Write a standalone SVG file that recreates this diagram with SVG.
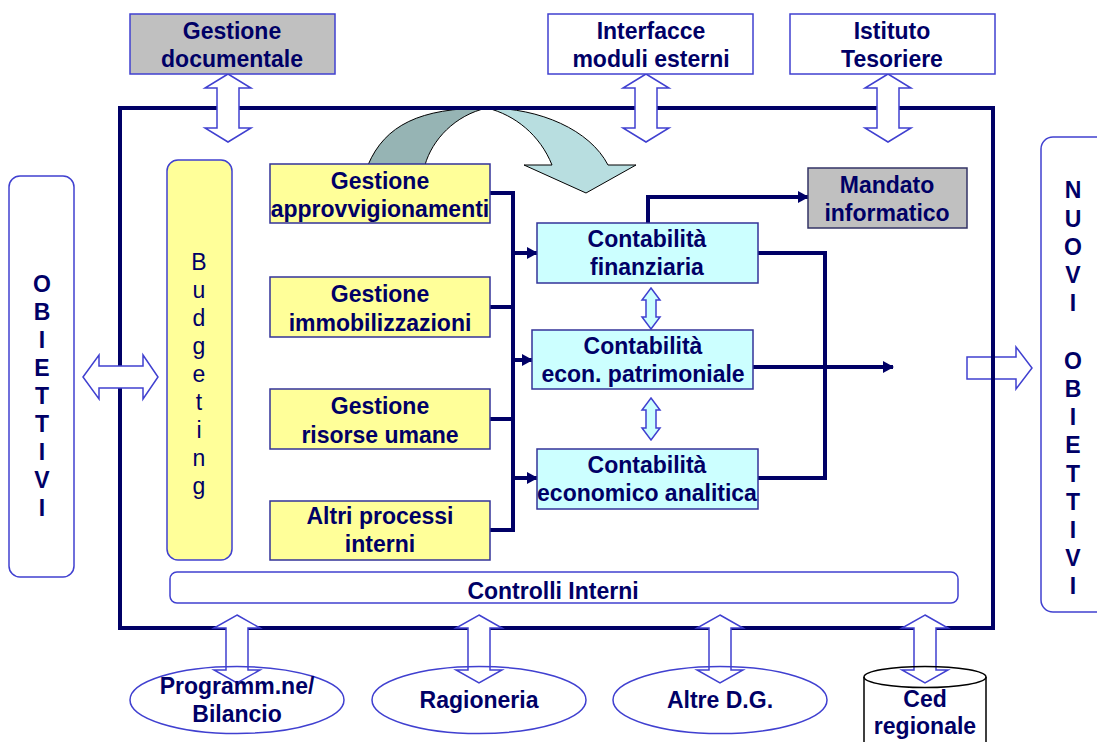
<svg xmlns="http://www.w3.org/2000/svg" width="1097" height="742" viewBox="0 0 1097 742">
<style>
text{font-family:"Liberation Sans",Arial,sans-serif;font-size:23px;font-weight:bold;fill:#000066;text-anchor:middle}
.lt{font-weight:normal}
.bx{stroke:#4040D0;stroke-width:1.5}
.dk{stroke:#333399;stroke-width:1.5}
.yl{fill:#FFFF99}
.cy{fill:#CCFFFF}
.gr{fill:#C0C0C0}
.wh{fill:#FFFFFF}
.da{fill:#FFFFFF;stroke:#4040D0;stroke-width:1.5}
.ln{fill:none;stroke:#000066;stroke-width:4}
</style>
<defs>
<marker id="ah" markerUnits="userSpaceOnUse" markerWidth="12" markerHeight="12" refX="10" refY="6" orient="auto">
<path d="M0,0 L11,6 L0,12 Z" fill="#000066"/>
</marker>
</defs>
<rect width="1097" height="742" fill="#FFFFFF"/>

<g id="flow-arrow">
<path d="M368,165 C385,125 420,108 487,108 C455,115 432,140 425,165 Z" fill="#96B4B4" stroke="#000000" stroke-width="1"/>
<path d="M487,108 C540,108 590,130 608,165 L636,165 L586,193 L524,165 L552,165 C540,135 515,115 487,108 Z" fill="#B8DEE0" stroke="#000000" stroke-width="1"/>
</g>

<g id="connectors-under">
<polygon class="da" points="967,357 1016,357 1016,347 1032,368 1016,389 1016,379 967,379"/>
</g>

<g id="frame">
<rect x="120" y="108" width="873" height="520" fill="none" stroke="#000066" stroke-width="4"/>
</g>

<g id="connectors">
<polygon class="da" points="228,74 251,88 239,88 239,128 251,128 228,142 205,128 217,128 217,88 205,88"/>
<polygon class="da" points="646,74 669,88 657,88 657,128 669,128 646,142 623,128 635,128 635,88 623,88"/>
<polygon class="da" points="888,74 911,88 899,88 899,128 911,128 888,142 865,128 877,128 877,88 865,88"/>
<polygon class="da" points="83,377 99,355 99,366 143,366 143,355 158,377 143,399 143,388 99,388 99,399"/>
<polygon class="da" points="237,615 260,628 248,628 248,670 260,670 237,683 214,670 226,670 226,628 214,628"/>
<polygon class="da" points="479,615 502,628 490,628 490,670 502,670 479,683 456,670 468,670 468,628 456,628"/>
<polygon class="da" points="720,615 743,628 731,628 731,670 743,670 720,683 697,670 709,670 709,628 697,628"/>
<polygon class="da" points="925,615 948,628 936,628 936,670 948,670 925,683 902,670 914,670 914,628 902,628"/>
<polygon points="651,288 660,300 656,300 656,317 660,317 651,329 642,317 646,317 646,300 642,300" fill="#CCFFFF" stroke="#4040D0" stroke-width="1.5"/>
<polygon points="651,398 660,410 656,410 656,428 660,428 651,440 642,428 646,428 646,410 642,410" fill="#CCFFFF" stroke="#4040D0" stroke-width="1.5"/>
<polyline class="ln" points="490,193 513,193 513,530 490,530"/>
<line class="ln" x1="490" y1="307" x2="513" y2="307"/>
<line class="ln" x1="490" y1="419" x2="513" y2="419"/>
<line class="ln" x1="513" y1="253" x2="537" y2="253" marker-end="url(#ah)"/>
<line class="ln" x1="513" y1="360" x2="532" y2="360" marker-end="url(#ah)"/>
<line class="ln" x1="513" y1="478" x2="537" y2="478" marker-end="url(#ah)"/>
<polyline class="ln" points="758,253 825,253 825,478 758,478"/>
<line class="ln" x1="753" y1="367" x2="893" y2="367" marker-end="url(#ah)"/>
<polyline class="ln" points="648,223 648,197 808,197" marker-end="url(#ah)"/>
</g>

<g id="gestione-documentale">
<rect class="gr bx" x="130" y="14" width="205" height="60"/>
<text x="232" y="39">Gestione</text>
<text x="232" y="67">documentale</text>
</g>
<g id="interfacce">
<rect class="wh bx" x="548" y="14" width="205" height="60"/>
<text x="651" y="39">Interfacce</text>
<text x="651" y="67">moduli esterni</text>
</g>
<g id="istituto-tesoriere">
<rect class="wh bx" x="790" y="14" width="205" height="60"/>
<text x="892" y="39">Istituto</text>
<text x="892" y="67">Tesoriere</text>
</g>

<g id="obiettivi">
<rect class="wh bx" x="9" y="176" width="65" height="401" rx="11"/>
<text x="42" y="292">O</text>
<text x="42" y="320">B</text>
<text x="42" y="348">I</text>
<text x="42" y="376">E</text>
<text x="42" y="404">T</text>
<text x="42" y="432">T</text>
<text x="42" y="460">I</text>
<text x="42" y="488">V</text>
<text x="42" y="516">I</text>
</g>

<g id="budgeting">
<rect class="yl bx" x="167" y="160" width="65" height="400" rx="11"/>
<text class="lt" x="199" y="270">B</text>
<text class="lt" x="199" y="298">u</text>
<text class="lt" x="199" y="326">d</text>
<text class="lt" x="199" y="354">g</text>
<text class="lt" x="199" y="382">e</text>
<text class="lt" x="199" y="410">t</text>
<text class="lt" x="199" y="438">i</text>
<text class="lt" x="199" y="466">n</text>
<text class="lt" x="199" y="494">g</text>
</g>

<g id="gestione-approvvigionamenti">
<rect class="yl dk" x="270" y="164" width="220" height="59"/>
<text x="380" y="189">Gestione</text>
<text x="380" y="217">approvvigionamenti</text>
</g>
<g id="gestione-immobilizzazioni">
<rect class="yl dk" x="270" y="277" width="220" height="60"/>
<text x="380" y="302">Gestione</text>
<text x="380" y="331">immobilizzazioni</text>
</g>
<g id="gestione-risorse-umane">
<rect class="yl dk" x="270" y="389" width="220" height="60"/>
<text x="380" y="414">Gestione</text>
<text x="380" y="443">risorse umane</text>
</g>
<g id="altri-processi">
<rect class="yl dk" x="270" y="501" width="220" height="59"/>
<text x="380" y="524">Altri processi</text>
<text x="380" y="552">interni</text>
</g>

<g id="contabilita-finanziaria">
<rect class="cy dk" x="537" y="223" width="221" height="60"/>
<text x="647" y="247">Contabilità</text>
<text x="647" y="275">finanziaria</text>
</g>
<g id="contabilita-patrimoniale">
<rect class="cy dk" x="532" y="330" width="221" height="59"/>
<text x="643" y="354">Contabilità</text>
<text x="643" y="382">econ. patrimoniale</text>
</g>
<g id="contabilita-analitica">
<rect class="cy dk" x="537" y="449" width="221" height="60"/>
<text x="647" y="473">Contabilità</text>
<text x="647" y="501">economico analitica</text>
</g>

<g id="mandato-informatico">
<rect class="gr" x="808" y="168" width="159" height="60" stroke="#333366" stroke-width="1.5"/>
<text x="887" y="193">Mandato</text>
<text x="887" y="221">informatico</text>
</g>

<g id="nuovi-obiettivi">
<rect class="wh bx" x="1041" y="137" width="80" height="475" rx="12"/>
<text x="1073" y="198">N</text>
<text x="1073" y="227">U</text>
<text x="1073" y="255">O</text>
<text x="1073" y="283">V</text>
<text x="1073" y="311">I</text>
<text x="1073" y="369">O</text>
<text x="1073" y="397">B</text>
<text x="1073" y="425">I</text>
<text x="1073" y="453">E</text>
<text x="1073" y="482">T</text>
<text x="1073" y="510">T</text>
<text x="1073" y="538">I</text>
<text x="1073" y="566">V</text>
<text x="1073" y="594">I</text>
</g>

<g id="controlli-interni">
<rect class="wh bx" x="170" y="572" width="788" height="31" rx="7"/>
<text x="553" y="599">Controlli Interni</text>
</g>

<g id="programmazione-bilancio">
<ellipse cx="237" cy="700" rx="107" ry="33.5" fill="none" class="bx"/>
<text x="237" y="694">Programm.ne/</text>
<text x="237" y="722">Bilancio</text>
</g>
<g id="ragioneria">
<ellipse cx="479" cy="700" rx="107" ry="33.5" fill="none" class="bx"/>
<text x="479" y="708">Ragioneria</text>
</g>
<g id="altre-dg">
<ellipse cx="720" cy="700" rx="107" ry="33.5" fill="none" class="bx"/>
<text x="720" y="708">Altre D.G.</text>
</g>
<g id="ced-regionale">
<path d="M864,677 V750 M986,677 V750" fill="none" stroke="#000000" stroke-width="1.5"/>
<ellipse cx="925" cy="677" rx="61" ry="10.5" fill="none" stroke="#000000" stroke-width="1.5"/>
<text x="925" y="707">Ced</text>
<text x="925" y="734">regionale</text>
</g>
</svg>
